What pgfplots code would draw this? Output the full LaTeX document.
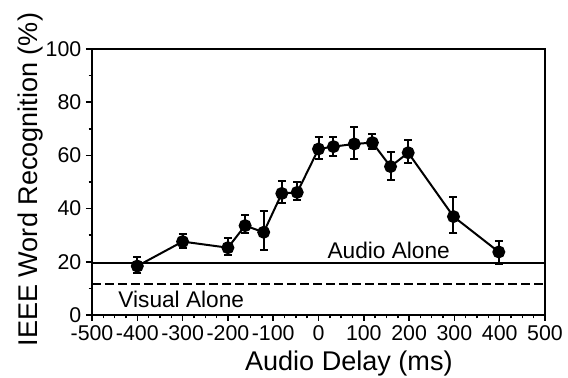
\documentclass[border=0pt]{standalone}
\usepackage{pgfplots}
\pgfplotsset{compat=1.18}
\usepackage{fontspec}
\setmainfont{Liberation Sans}
\begin{document}
\begin{tikzpicture}
\begin{axis}[
  name=ax,
  scale only axis,
  width=339.75pt, height=199.5pt,
  xmin=-500, xmax=500, ymin=0, ymax=100,
  xtick={-500,-400,...,500},
  ytick={0,20,...,100},
  minor x tick num=3,
  minor y tick num=1,
  tick align=outside,
  xtick pos=bottom, ytick pos=left,
  major tick length=4.5pt,
  minor tick length=2.5pt,
  every tick/.style={black, line width=1.1pt},
  axis line style={line width=1.6pt},
  /pgf/number format/assume math mode=true,
  tick label style={font=\fontsize{16}{18}\selectfont},
  label style={font=\fontsize{20.3}{24}\selectfont},
  xlabel={Audio Delay (ms)},
  ylabel={IEEE Word Recognition (\%)},
  xlabel style={at={(axis description cs:0.567,-0.2094)}, anchor=base},
  ylabel style={at={(axis description cs:-0.1214,0.509)}, anchor=base, rotate=0},
  clip=false,
]
\addplot[black, line width=1.5pt, mark=*, mark size=4.1pt,
  mark options={solid, fill=black},
  error bars/.cd, y dir=both, y explicit,
  error bar style={line width=1.5pt},
  error mark options={rotate=90, mark size=3pt, line width=1.5pt}]
  table[x=x, y=y, y error plus=ep, y error minus=em] {
x y ep em
-400 18.4 3.3 2.5
-300 27.6 2.9 2.5
-200 25.3 3.8 2.9
-162 33.6 3.9 2.7
-121 31.1 8.0 6.7
-81 45.7 4.8 3.7
-47 46.1 4.0 2.9
0 62.4 4.4 3.9
33 63.3 3.7 3.5
79 64.3 6.3 5.8
119 64.8 3.2 2.5
159 55.8 5.6 4.9
198 61.0 4.8 4.0
298 37.0 7.5 6.3
398 23.7 4.1 4.6
};
\addplot[black, line width=1.5pt, no marks] coordinates {(-500,19.4) (500,19.4)};
\addplot[black, line width=1.8pt, no marks, dash pattern=on 6.75pt off 3pt] coordinates {(-500,11.65) (500,11.65)};
\node[anchor=base, font=\fontsize{17}{20}\selectfont, inner sep=0pt] at (axis cs:155,21.2) {Audio Alone};
\node[anchor=base, font=\fontsize{17}{20}\selectfont, inner sep=0pt] at (axis cs:-303,2.9) {Visual Alone};
\end{axis}
\pgfresetboundingbox
\path[use as bounding box] ([shift={(-69pt,-47.25pt)}]ax.south west) rectangle ([shift={(17.25pt,36.75pt)}]ax.north east);
\end{tikzpicture}
\end{document}
